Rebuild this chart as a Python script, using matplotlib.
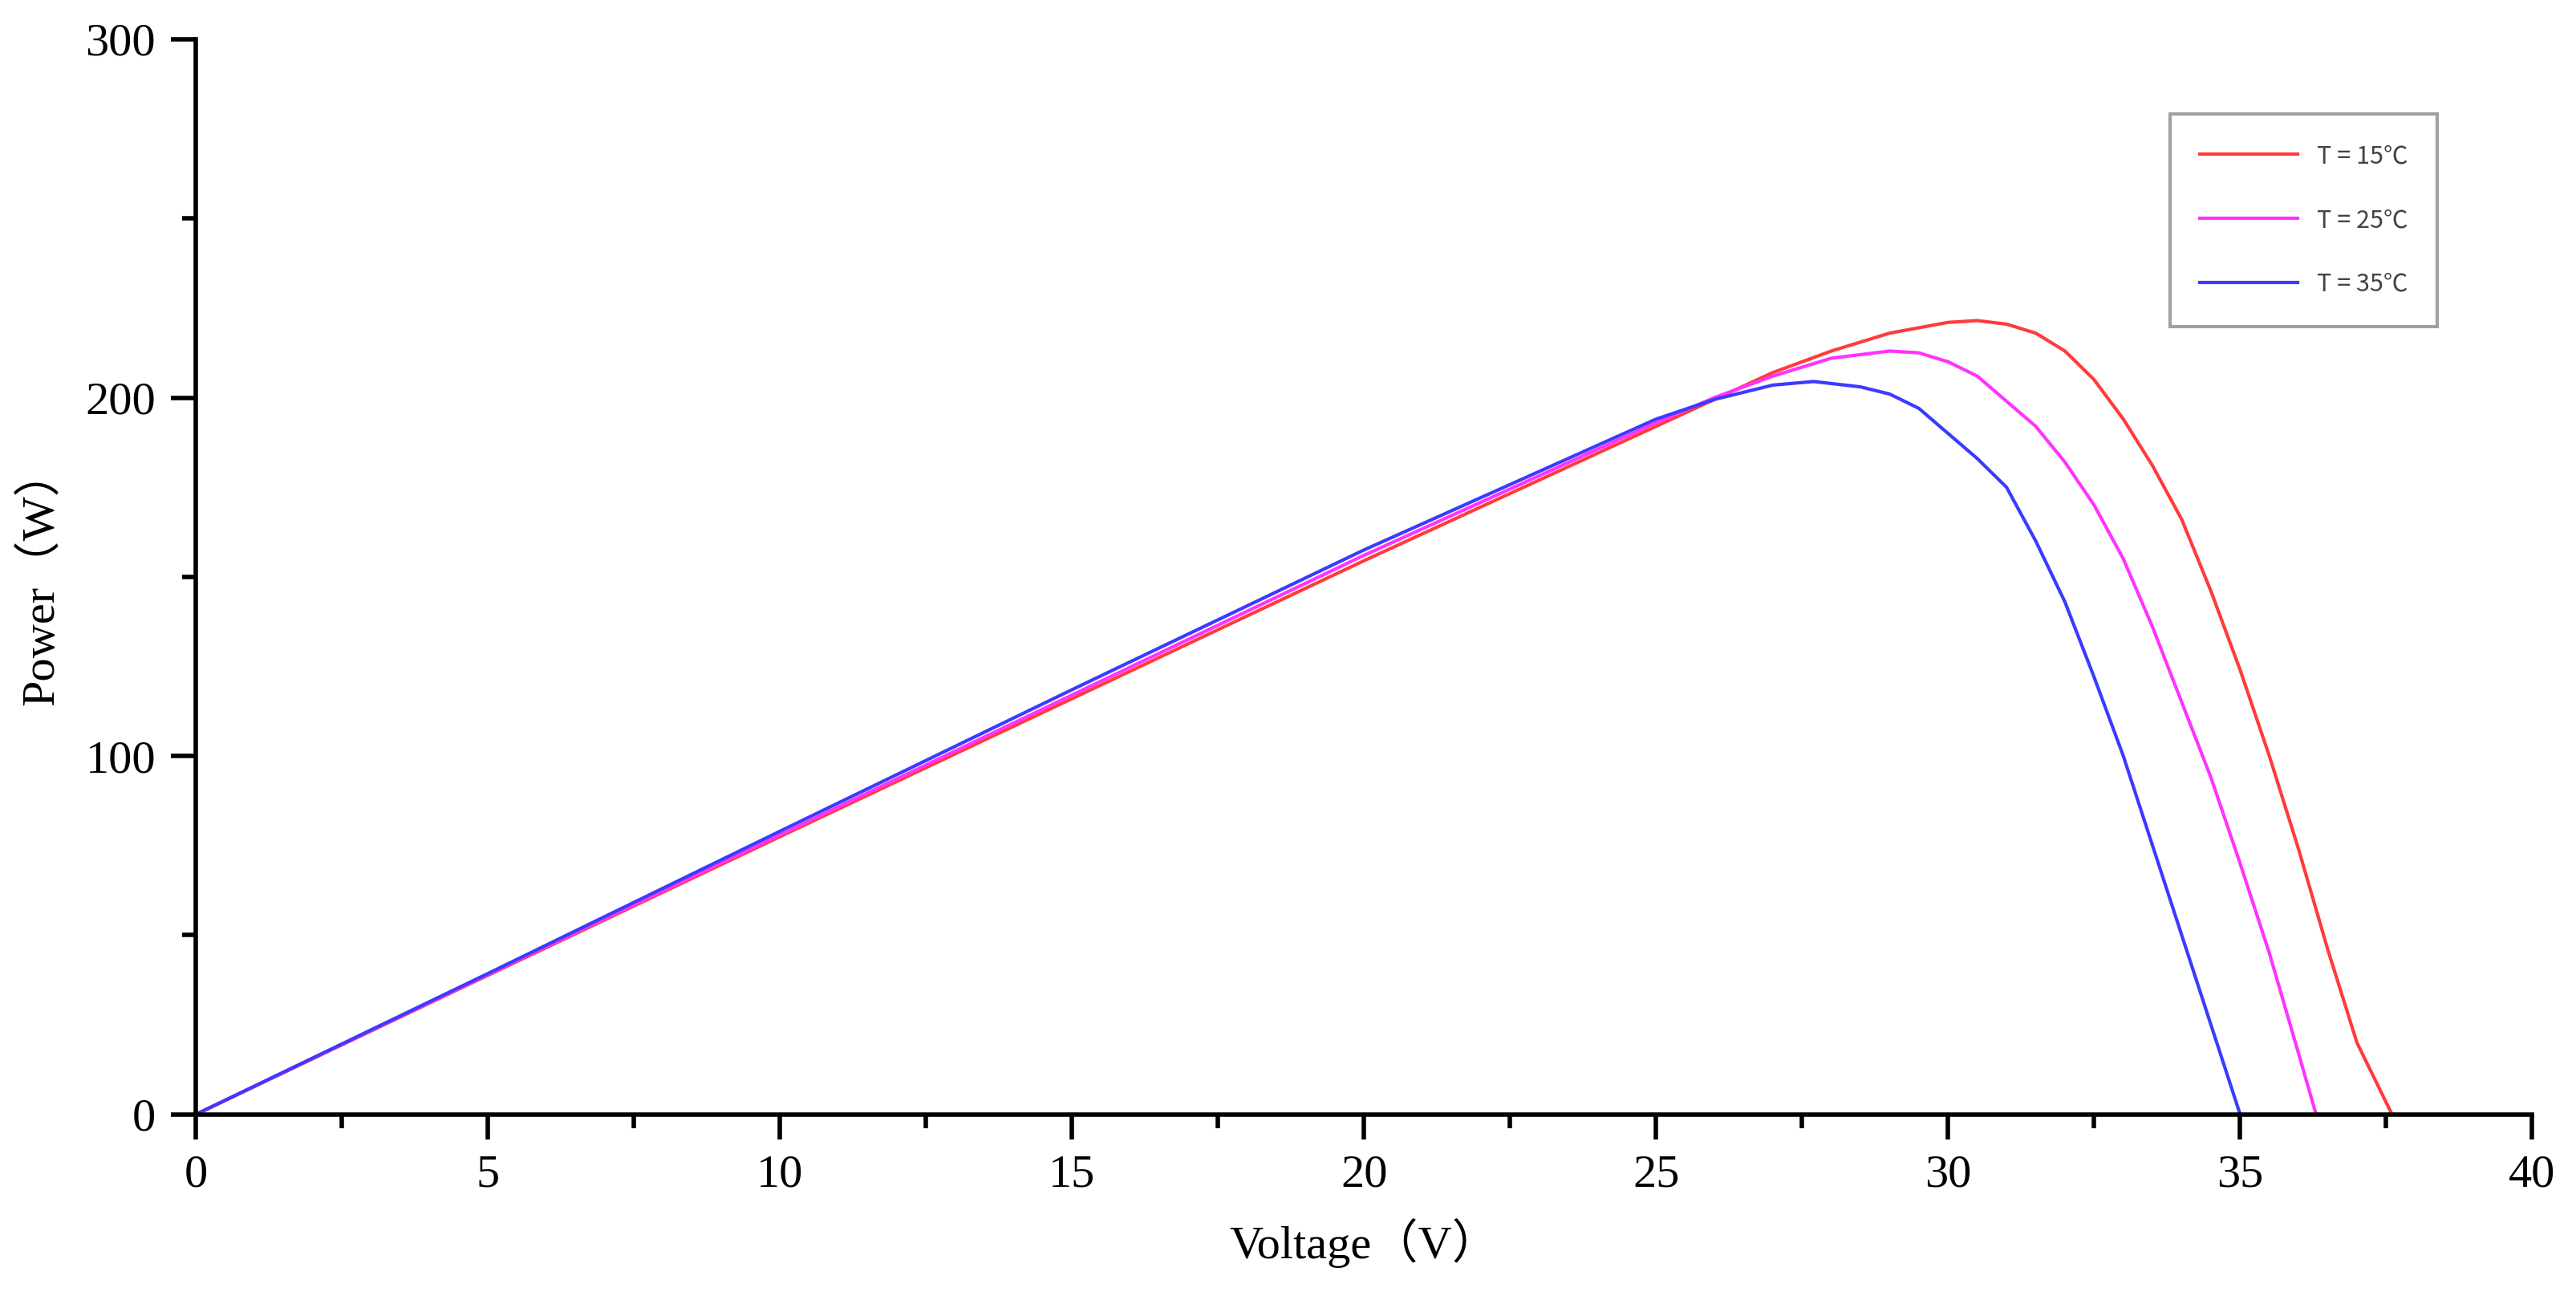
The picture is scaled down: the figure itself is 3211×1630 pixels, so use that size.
import matplotlib
matplotlib.use("Agg")
import matplotlib.pyplot as plt
from matplotlib.ticker import MultipleLocator

v15 = [0, 5, 10, 15, 20, 25, 27, 28, 29, 30, 30.5, 31, 31.5, 32, 32.5, 33, 33.5, 34, 34.5, 35, 35.5, 36, 36.5, 37, 37.6]
p15 = [0, 38.8, 77.5, 116, 154.5, 192, 207, 213, 218, 221, 221.5, 220.5, 218, 213, 205, 194, 181, 166, 146, 124, 100, 74, 46, 20, 0]
v25 = [0, 5, 10, 15, 20, 25, 26, 27, 28, 29, 29.5, 30, 30.5, 31, 31.5, 32, 32.5, 33, 33.5, 34, 34.5, 35, 35.5, 36, 36.3]
p25 = [0, 39, 78, 117, 156, 193, 200, 206, 211, 213, 212.5, 210, 206, 199, 192, 182, 170, 155, 136, 115, 94, 70, 45, 17, 0]
v35 = [0, 5, 10, 15, 20, 25, 26, 27, 27.7, 28.5, 29, 29.5, 30, 30.5, 31, 31.5, 32, 32.5, 33, 33.5, 34, 34.5, 35]
p35 = [0, 39.3, 79, 118.5, 157.5, 194, 199.5, 203.5, 204.5, 203, 201, 197, 190, 183, 175, 160, 143, 122, 100, 75, 50, 25, 0]
labels = ["T = 15℃", "T = 25℃", "T = 35℃"]
colors = ["#ff3b3b", "#ff33ff", "#3b3bff"]

serif = ["Liberation Serif", "Noto Sans CJK SC"]
fig = plt.figure(figsize=(32.11, 16.3), dpi=100)
ax = fig.add_axes([0.076, 0.148, 0.907, 0.822])
for v, p, l, c in zip([v15, v25, v35], [p15, p25, p35], labels, colors):
    ax.plot(v, p, color=c, lw=3, label=l)
ax.set_xlim(0, 40)
ax.set_ylim(0, 300)
ax.xaxis.set_major_locator(MultipleLocator(5))
ax.xaxis.set_minor_locator(MultipleLocator(2.5))
ax.yaxis.set_major_locator(MultipleLocator(100))
ax.yaxis.set_minor_locator(MultipleLocator(50))
for s in ["top", "right"]:
    ax.spines[s].set_visible(False)
for s in ["left", "bottom"]:
    ax.spines[s].set_linewidth(4)
ax.tick_params(which="major", direction="out", length=22, width=4, labelsize=42, pad=14)
ax.tick_params(which="minor", direction="out", length=12, width=4)
for t in ax.get_xticklabels() + ax.get_yticklabels():
    t.set_fontfamily(serif)
ax.set_xlabel("Voltage（V）", fontsize=42, family=serif, labelpad=20)
ax.set_ylabel("Power（W）", fontsize=42, family=serif, labelpad=20)
leg = ax.legend(loc="upper right", bbox_to_anchor=(0.951, 0.922), bbox_transform=fig.transFigure,
                prop={"family": ["Noto Sans CJK SC", "DejaVu Sans"], "size": 22},
                frameon=True, fancybox=False, edgecolor="#888888", handlelength=4,
                labelspacing=1.6, borderpad=1.2, labelcolor="#444444")
leg.get_frame().set_linewidth(3)
fig.savefig("out.png", dpi=100)
